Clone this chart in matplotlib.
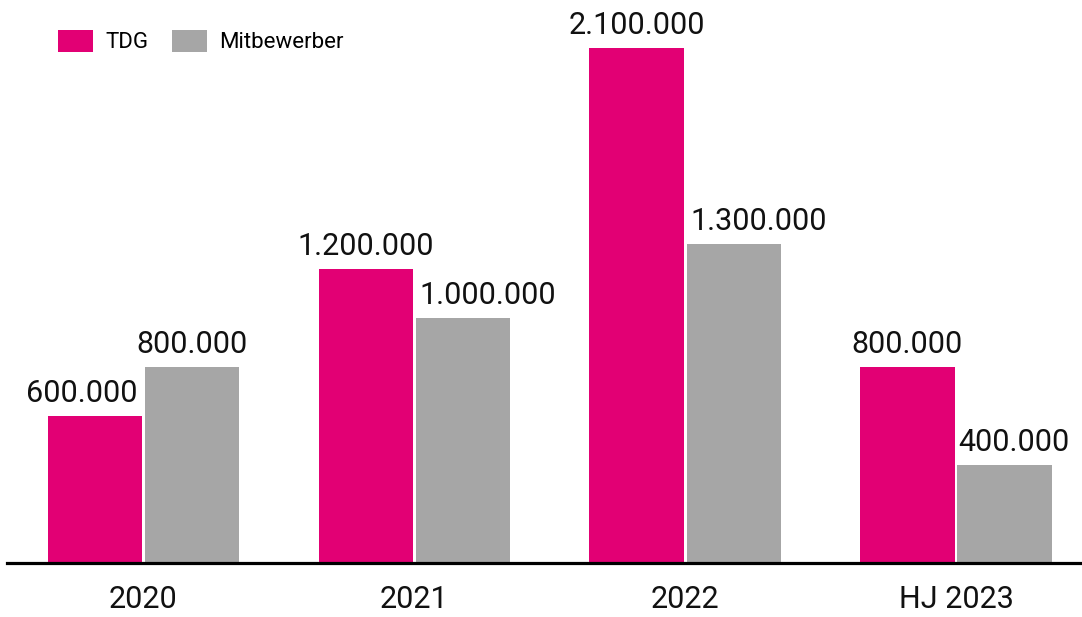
import matplotlib
matplotlib.use("Agg")
import matplotlib.pyplot as plt
import numpy as np

categories = ["2020", "2021", "2022", "HJ 2023"]
tdg = [600000, 1200000, 2100000, 800000]
mitbewerber = [800000, 1000000, 1300000, 400000]
series_names = ["TDG", "Mitbewerber"]

# sideways nudge of the value labels (points), as in the original layout
tdg_nudge = [-9.5, 0, 0, 0]
mit_nudge = [0, 18.5, 18, 7]

magenta = "#E20074"
grey = "#A6A6A6"

plt.rcParams["font.family"] = ["Roboto", "DejaVu Sans"]


def fmt(v):
    return f"{v:,}".replace(",", ".")


fig = plt.figure(figsize=(10.82, 6.17), dpi=100)
ax = fig.add_axes([0.0065, 0.0883, 0.9935, 0.9117])

x = np.arange(len(categories))
w = 0.347
off = 0.179

bars1 = ax.bar(x - off, tdg, w, color=magenta, label=series_names[0])
bars2 = ax.bar(x + off, mitbewerber, w, color=grey, label=series_names[1])

for bars, vals, nudge in ((bars1, tdg, tdg_nudge), (bars2, mitbewerber, mit_nudge)):
    for b, v, dx in zip(bars, vals, nudge):
        ax.annotate(fmt(v), (b.get_x() + b.get_width() / 2, v),
                    xytext=(dx, 10), textcoords="offset points",
                    ha="center", va="baseline", fontsize=22, color="#111111")

ax.set_xlim(-0.502, 3.465)
ax.set_ylim(0, 2.296e6)
ax.set_xticks(x)
ax.set_xticklabels(categories, fontsize=22, color="#111111")
ax.tick_params(axis="x", length=0, pad=16)
ax.set_yticks([])
for s in ("left", "right", "top"):
    ax.spines[s].set_visible(False)
ax.spines["bottom"].set_linewidth(2.3)
ax.spines["bottom"].set_color("black")

ax.legend(loc="upper left", bbox_to_anchor=(0.0395, 0.962), ncol=2, frameon=False,
          fontsize=16, handlelength=1.55, handleheight=1.1, handletextpad=0.55,
          columnspacing=1.1, borderaxespad=0)

fig.savefig("out.png", dpi=100)
